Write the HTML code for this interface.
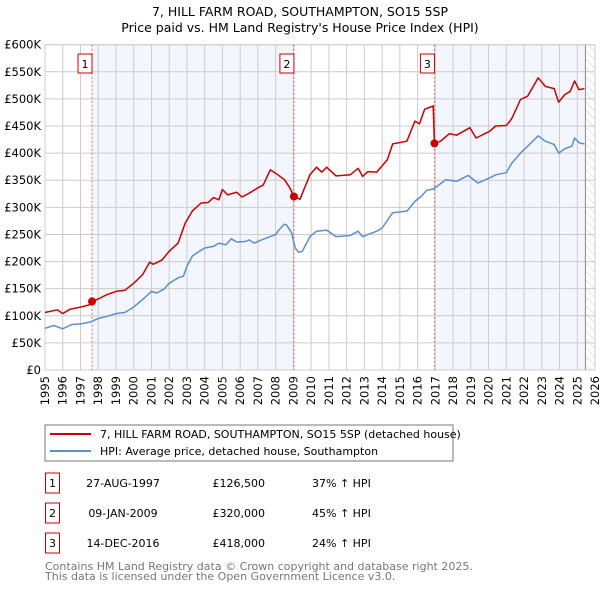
<!DOCTYPE html>
<html><head><meta charset="utf-8"><style>
body{margin:0;background:#fff;font-family:"Liberation Sans","DejaVu Sans",sans-serif;}
svg text{font-family:"DejaVu Sans","Liberation Sans",sans-serif;}
</style></head><body>
<svg id="c" width="600" height="590" viewBox="0 0 600 590" xmlns="http://www.w3.org/2000/svg">
<defs><pattern id="hatch" width="6" height="6" patternUnits="userSpaceOnUse" patternTransform="rotate(-45)"><line x1="0" y1="0" x2="0" y2="6" stroke="#ccc" stroke-width="1"/></pattern></defs>
<text x="300" y="16" text-anchor="middle" font-size="12.5">7, HILL FARM ROAD, SOUTHAMPTON, SO15 5SP</text>
<text x="300" y="32" text-anchor="middle" font-size="12.5">Price paid vs. HM Land Registry's House Price Index (HPI)</text>
<g id="plot"></g>
<rect x="45" y="425" width="408" height="36" fill="#fff" stroke="#777"/>
<line x1="50" y1="434" x2="91" y2="434" stroke="#cc0000" stroke-width="2"/>
<text x="100" y="438" font-size="11">7, HILL FARM ROAD, SOUTHAMPTON, SO15 5SP (detached house)</text>
<line x1="50" y1="451" x2="91" y2="451" stroke="#5b8fd0" stroke-width="2"/>
<text x="100" y="455" font-size="11">HPI: Average price, detached house, Southampton</text>
<g id="table" font-size="11"></g>
<text x="45" y="570" font-size="11" fill="#777">Contains HM Land Registry data © Crown copyright and database right 2025.</text>
<text x="45" y="580" font-size="11" fill="#777">This data is licensed under the Open Government Licence v3.0.</text>
</svg>
<script>
const hpiYears=[1995,1995.5,1996,1996.5,1997,1997.5,1998,1998.5,1999,1999.5,2000,2000.5,2001,2001.3,2001.7,2002,2002.5,2002.8,2003,2003.3,2003.7,2004,2004.5,2004.8,2005.2,2005.5,2005.8,2006.3,2006.5,2006.8,2007.2,2007.7,2008,2008.2,2008.5,2008.6,2008.9,2009.1,2009.3,2009.5,2009.93,2010.3,2010.88,2011.4,2012.2,2012.65,2012.9,2013.7,2014,2014.6,2015.4,2015.85,2016.2,2016.5,2016.9,2017.6,2018.2,2018.85,2019.4,2020.05,2020.4,2021,2021.3,2021.8,2022.3,2022.8,2023.2,2023.7,2023.95,2024.3,2024.7,2024.85,2025.1,2025.4];
const hpiValues=[77,82,76,84,85,88,95,99,104,106,116,130,145,142,149,160,170,173,191,210,219,225,228,234,231,242,236,237,240,234,240,246,250,259,269,268,253,225,217,219,246,256,258,246,248,256,246,256,262,290,293,311,320,331,334,351,348,359,345,354,360,364,381,400,416,432,422,416,400,408,413,428,419,417];
const priceYears=[1995,1995.7,1996,1996.4,1997,1997.5,1997.65,1998,1998.5,1999,1999.5,2000,2000.5,2000.9,2001.1,2001.6,2002,2002.5,2002.9,2003.3,2003.8,2004.2,2004.5,2004.8,2005,2005.3,2005.8,2006.1,2006.5,2007,2007.3,2007.7,2008,2008.5,2008.8,2009.03,2009.37,2009.93,2010.3,2010.6,2010.88,2011.4,2012.2,2012.65,2012.9,2013.2,2013.7,2014.3,2014.6,2015.4,2015.85,2016.1,2016.4,2016.88,2016.95,2017.3,2017.8,2018.2,2018.95,2019.3,2020.05,2020.4,2021,2021.3,2021.8,2022.2,2022.8,2023.2,2023.7,2023.95,2024.3,2024.6,2024.85,2025.1,2025.4];
const priceValues=[106,111,104,112,116,120,126.5,131,139,145,147,160,176,199,195,203,219,234,271,293,308,309,318,314,333,323,328,319,326,336,341,369,363,351,336,320,315,360,374,365,374,358,360,372,357,366,365,388,417,422,459,454,481,487,418,422,436,433,447,428,440,450,451,463,499,505,539,523,519,494,508,514,533,517,519];
const saleYears=[1997.65,2009.03,2016.95];
const saleValues=[126.5,320,418];
const saleDates=["27-AUG-1997","09-JAN-2009","14-DEC-2016"];
const salePrices=["£126,500","£320,000","£418,000"];
const saleHpi=["37% ↑ HPI","45% ↑ HPI","24% ↑ HPI"];
const yTicks=[0,50,100,150,200,250,300,350,400,450,500,550,600];
const yLabels=["£0","£50K","£100K","£150K","£200K","£250K","£300K","£350K","£400K","£450K","£500K","£550K","£600K"];
const xTicks=[];for(let y=1995;y<=2026;y++)xTicks.push(y);
const dataEnd=2025.46;

const L=45,R=595,T=44.7,B=370;
const X=y=>L+(y-1995)*(R-L)/31;
const Y=v=>B-v*(B-T)/600;
const NS="http://www.w3.org/2000/svg";
const g=document.getElementById('plot');
function mk(tag,attrs,parent){const e=document.createElementNS(NS,tag);for(const k in attrs)e.setAttribute(k,attrs[k]);(parent||g).appendChild(e);return e;}
let e;
e=mk('rect',{x:L,y:T,width:R-L,height:B-T,fill:'#fff'});


e=mk('rect',{x:X(saleYears[0]),y:T,width:X(saleYears[1])-X(saleYears[0]),height:B-T,fill:'#f3f6fd'});


e=mk('rect',{x:X(saleYears[2]),y:T,width:X(dataEnd)-X(saleYears[2]),height:B-T,fill:'#f3f6fd'});


e=mk('rect',{x:X(dataEnd),y:T,width:R-X(dataEnd),height:B-T,fill:'url(#hatch)'});


xTicks.forEach(t=>{
  e=mk('line',{x1:X(t),x2:X(t),y1:T,y2:B,stroke:'#ccc','stroke-width':1});
  
  
  e=mk('text',{x:0,y:0,transform:`translate(${X(t)+4},${B+6}) rotate(-90)`,'text-anchor':'end','font-size':11.5});
  e.textContent=t;
  
  
});
yTicks.forEach((t,i)=>{
  e=mk('line',{x1:L,x2:R,y1:Y(t),y2:Y(t),stroke:'#ccc','stroke-width':1});
  
  
  e=mk('text',{x:L-4,y:Y(t)+4,'text-anchor':'end','font-size':11.5});
  e.textContent=yLabels[i];
  
  
});
e=mk('line',{x1:X(dataEnd),x2:X(dataEnd),y1:T,y2:B,stroke:'#888','stroke-width':1});


e=mk('rect',{x:L,y:T,width:R-L,height:B-T,fill:'none',stroke:'#ccc'});


saleYears.forEach((s,i)=>{
  e=mk('line',{x1:X(s),x2:X(s),y1:T,y2:B,stroke:'#e06060','stroke-width':1,'stroke-dasharray':'2,2'});
  
  
});
function path(xs,vs){return xs.map((x,i)=>(i?'L':'M')+X(x).toFixed(1)+','+Y(vs[i]).toFixed(1)).join('');}
e=mk('path',{d:path(hpiYears,hpiValues),fill:'none',stroke:'#5b8fd0','stroke-width':1.5,'stroke-linejoin':'round'});


e=mk('path',{d:path(priceYears,priceValues),fill:'none',stroke:'#cc0000','stroke-width':1.5,'stroke-linejoin':'round'});


saleYears.forEach((s,i)=>{
  e=mk('circle',{cx:X(s),cy:Y(saleValues[i]),r:4,fill:'#cc0000'});
  
  
  const bx=X(s)-12;
  e=mk('rect',{x:bx-2,y:54,width:14,height:19,fill:'#fff',stroke:'#cc0000'});
  
  
  e=mk('text',{x:bx+5,y:68,'text-anchor':'middle','font-size':11});
  e.textContent=i+1;
  
  
});
const tb=document.getElementById('table');
saleYears.forEach((s,i)=>{
  const cy=483+i*30;
  e=mk('rect',{x:45.5,y:cy-10,width:14,height:20,fill:'#fff',stroke:'#cc0000'},tb);
  
  
  e=mk('text',{x:52.5,y:cy+4,'text-anchor':'middle'},tb);e.textContent=i+1;
  
  
  e=mk('text',{x:123,y:cy+4,'text-anchor':'middle'},tb);e.textContent=saleDates[i];
  
  
  e=mk('text',{x:265,y:cy+4,'text-anchor':'end'},tb);e.textContent=salePrices[i];
  
  
  e=mk('text',{x:312,y:cy+4},tb);e.textContent=saleHpi[i];
  
  
});
</script>
</body></html>
